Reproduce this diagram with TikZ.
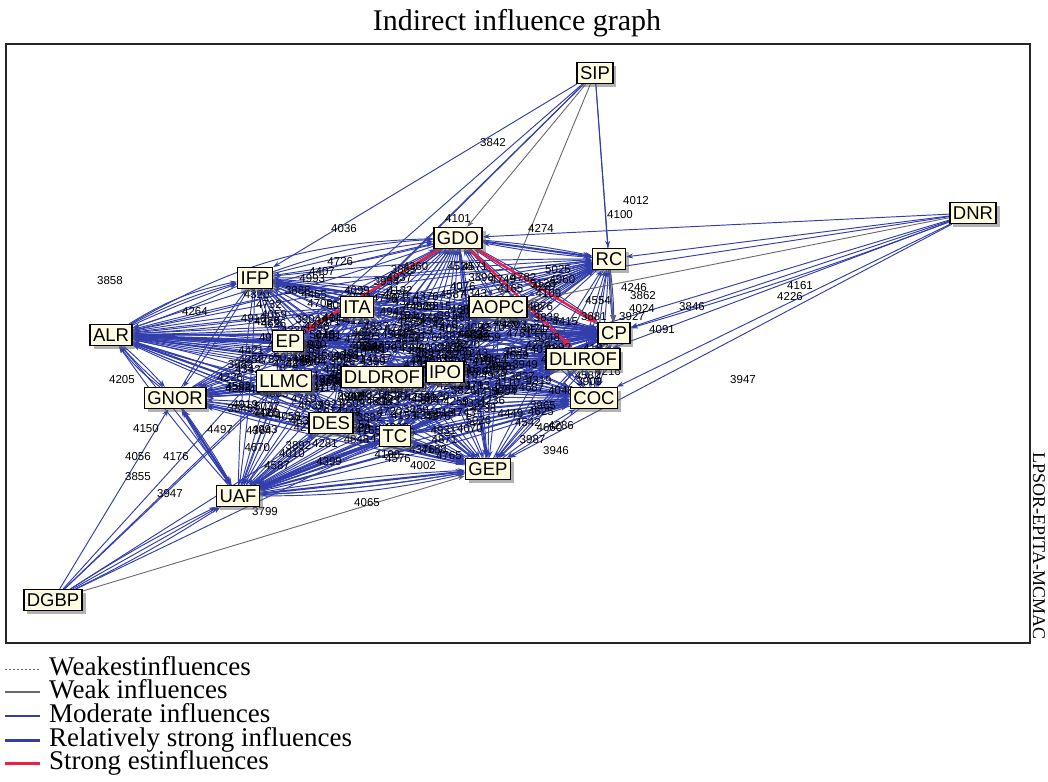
\documentclass[tikz,border=0pt]{standalone}
\usepackage{fontspec}
\setmainfont{Liberation Serif}
\newfontfamily\factorfont{Liberation Sans}
\usetikzlibrary{arrows.meta,shadows,calc}
\pgfdeclarelayer{edgelayer}
\pgfdeclarelayer{labellayer}
\pgfsetlayers{edgelayer,labellayer,main}

\definecolor{inflblue}{RGB}{50,62,172}
\definecolor{nodefill}{RGB}{255,252,226}
\definecolor{strongred}{RGB}{236,32,64}
\definecolor{weakgray}{RGB}{105,105,105}

\begin{document}
\begin{tikzpicture}[x=1pt,y=-1pt,
  factor/.style={draw=black, line width=1.5pt, fill=nodefill,
    font=\factorfont\fontsize{18.5}{18.5}\selectfont,
    inner xsep=3pt, inner ysep=3.5pt, text height=13.3pt, text depth=0.5pt,
    drop shadow={shadow xshift=3.5pt, shadow yshift=-3.5pt, fill=black!60}},
  tip/.style={-{Stealth[length=7pt,width=5pt]}},
  moderate/.style={draw=inflblue, line width=0.95pt, tip},
  relstrong/.style={draw=inflblue, line width=2pt, -{Stealth[length=9pt,width=7pt]}},
  weak/.style={draw=weakgray, line width=0.9pt, tip},
  strong/.style={draw=strongred, line width=2.4pt, -{Stealth[length=11pt,width=8pt]}},
  lbl/.style={font=\factorfont\fontsize{11.5}{11.5}\selectfont, inner sep=0pt, text=black},
  legendtext/.style={anchor=west, inner sep=0pt, font=\fontsize{27}{27}\selectfont,
    text height=18pt, text depth=6pt},
  lgweakest/.style={draw=weakgray, line width=1pt, dash pattern=on 2pt off 2pt},
  lgweak/.style={draw=weakgray, line width=1.4pt},
  lgmoderate/.style={draw=inflblue, line width=1.4pt},
  lgrelstrong/.style={draw=inflblue, line width=3pt},
  lgstrong/.style={draw=strongred, line width=3pt}
]
\useasboundingbox (0,0) rectangle (1048,781);

% title, frame and side caption
\node (title) at (517,23) {\fontsize{30}{30}\selectfont Indirect influence graph};
\draw[line width=1.6pt, draw=black!85] (6,44) rectangle (1030,643);
\node[rotate=-90, font=\fontsize{18}{18}\selectfont] (src) at (1039,546) {LPSOR-EPITA-MCMAC};

% factors of the central cluster
\def\factors{GDO/458/238,RC/609/259,IFP/255/278,ITA/357/307,AOPC/498/307,CP/614/333,ALR/111/335,EP/288/341,DLIROF/583/359,DLDROF/382/377,IPO/445/372,LLMC/284/381,GNOR/175/398,COC/594/398,DES/331/423,TC/395/436,GEP/488/469,UAF/238/496}

\foreach \n/\x/\y in \factors { \node[factor] (\n) at (\x,\y) {\n}; }
\node[factor] (SIP) at (595,73) {SIP};
\node[factor] (DNR) at (973,213) {DNR};
\node[factor] (DGBP) at (53,600) {DGBP};

\begin{pgfonlayer}{edgelayer}
% moderate influences between every pair of the cluster, both ways
\foreach \a/\xa/\ya [count=\i] in \factors {
  \foreach \b/\xb/\yb [count=\j] in \factors {
    \ifnum\j>\i
      \draw[moderate] (\a) to[bend left=3] (\b);
      \draw[moderate] (\b) to[bend left=3] (\a);
    \fi
  }
}
% curved influences from the left
\draw[moderate] (ALR) to[bend left=14] (GDO);
\draw[moderate] (ALR) to[bend left=10] (IFP);
\draw[moderate] (ALR) to[bend left=6] (IFP);
\draw[moderate] (IFP) to[bend left=8] (GDO);
\draw[moderate] (ALR) to[bend left=6] (RC);
\draw[moderate] (GNOR) to[bend left=8] (ALR);
\draw[moderate] (UAF) to[bend right=6] (GEP);
\draw[moderate] (UAF) to[bend right=3] (GEP);
% relatively strong influences
\foreach \a/\b in {ALR/CP,ALR/DLIROF,GNOR/DLIROF,LLMC/DLIROF,EP/CP,UAF/GEP,UAF/DLIROF,
  DLDROF/DLIROF,IPO/DLIROF,TC/DLIROF,DES/COC,GNOR/GEP,ALR/GEP,ITA/CP,IFP/CP,GDO/GEP,UAF/COC,
  GNOR/UAF,UAF/GNOR,AOPC/CP,EP/DLIROF,ALR/COC,LLMC/CP,GNOR/CP,DES/DLIROF,UAF/CP,TC/COC,
  IFP/DLIROF,GDO/RC,ALR/EP,UAF/TC}
  { \draw[relstrong] (\a) -- (\b); }
% influences of SIP
\foreach \b in {IFP,ITA,EP,RC,CP,LLMC} { \draw[moderate] (SIP) -- (\b); }
\foreach \b in {GDO,AOPC} { \draw[weak] (SIP) -- (\b); }
% influences of DNR
\foreach \b in {RC,GDO,ITA,CP,DLIROF,IPO,COC,GEP} { \draw[moderate] (DNR) -- (\b); }
\draw[moderate] (DNR) to[bend left=2] (CP);
\draw[weak] (DNR) -- (AOPC);
% influences of DGBP
\foreach \b in {GNOR,LLMC,EP,UAF,DES,TC,ITA} { \draw[moderate] (DGBP) -- (\b); }
\draw[moderate] (DGBP) to[bend left=3] (UAF);
\draw[moderate] (DGBP) to[bend right=3] (UAF);
\draw[weak] (DGBP) -- (GEP);
\draw[weak] (RC) -- (CP);
% strong influences
\draw[strong] (GDO) -- (EP);
\draw[strong] (GDO) -- (CP);
\draw[strong] (GDO) -- (DLIROF);
\end{pgfonlayer}

\begin{pgfonlayer}{labellayer}
% influence values inside the cluster
\foreach \a/\xa/\ya [count=\i] in \factors {
  \foreach \b/\xb/\yb [count=\j] in \factors {
    \ifnum\j>\i
      \foreach \t [count=\s] in {0.42,0.58} {
        \pgfmathsetmacro\mx{\xa+\t*(\xb-\xa)}
        \pgfmathsetmacro\my{\ya+\t*(\yb-\ya)}
        \pgfmathtruncatemacro\inside{(\mx>225)&&(\mx<600)&&(\my>258)&&(\my<470)}
        \ifnum\inside=1
          \pgfmathtruncatemacro\v{3800+mod(\i*389+\j*211+\s*577,1250)}
          \node[lbl] (w-\i-\j-\s) at (\mx,\my) {\v};
        \fi
      }
    \fi
  }
}
% influence values on the outer connectors
\foreach \v/\x/\y [count=\k] in {3842/493/143,4101/458/219,4036/344/229,4274/541/228,
  4012/636/201,4100/620/215,3858/110/281,4407/322/272,4161/800/286,4226/790/297,
  3846/692/307,4091/662/330,4246/634/288,3862/643/296,4024/642/309,3927/632/317,
  3947/743/380,4150/146/429,4056/138/457,4176/176/457,3855/138/477,3947/170/494,
  3799/265/512,4065/367/503,4286/561/426,3946/556/451,4576/398/459,4002/423/466,
  4216/608/372,4205/122/380,4264/195/312,4497/220/430,5025/558/270,5128/543/284}
  { \node[lbl] (v\k) at (\x,\y) {\v}; }
\end{pgfonlayer}

% legend
\foreach \yy/\sty/\txt [count=\k] in {
  669/lgweakest/Weakestinfluences,
  692/lgweak/Weak influences,
  716/lgmoderate/Moderate influences,
  740/lgrelstrong/Relatively strong influences,
  763/lgstrong/Strong estinfluences} {
  \coordinate (la\k) at (5,\yy);
  \coordinate (lb\k) at (40,\yy);
  \draw[\sty] (la\k) -- (lb\k);
  \node[legendtext] (lt\k) at (49,\yy) {\txt};
}
\end{tikzpicture}
\end{document}
